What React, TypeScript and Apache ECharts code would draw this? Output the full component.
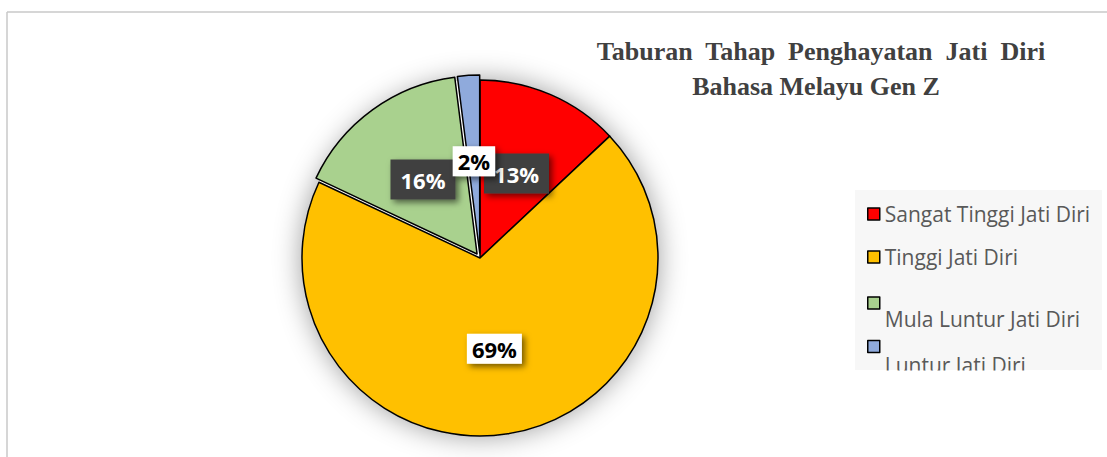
import React, { useEffect, useRef } from "react";
import * as echarts from "echarts";

const categories = [
  "Sangat Tinggi Jati Diri",
  "Tinggi Jati Diri",
  "Mula Luntur Jati Diri",
  "Luntur Jati Diri",
];
const values = [13, 69, 16, 2];
const colors = ["#FF0000", "#FFC000", "#A9D18E", "#8FAADC"];
const exploded = [false, false, true, true];
const darkLabel = [true, false, true, false];
const titleLines = ["Taburan  Tahap  Penghayatan  Jati  Diri", "Bahasa Melayu Gen Z"];

export default function App() {
  const ref = useRef<HTMLDivElement>(null);
  useEffect(() => {
    if (!ref.current) return;
    const chart = echarts.init(ref.current, undefined, { renderer: "svg" });
    const darkStyle = {
      backgroundColor: "#404040",
      color: "#ffffff",
      padding: [9, 10, 9, 10],
      shadowBlur: 6,
      shadowColor: "rgba(0,0,0,0.55)",
      shadowOffsetX: 3,
      shadowOffsetY: 3,
    };
    const whiteStyle = {
      backgroundColor: "#ffffff",
      color: "#000000",
      padding: [4, 5, 4, 5],
      shadowBlur: 6,
      shadowColor: "rgba(0,0,0,0.55)",
      shadowOffsetX: 3,
      shadowOffsetY: 3,
    };
    const legendTops = [202, 245, 271, 310.5];
    const legendLH = [24, 24, 32, 36];
    const legends = categories.map((name, i) => ({
      data: [name],
      left: 867,
      top: legendTops[i],
      padding: 0,
      orient: "vertical",
      itemWidth: 12,
      itemHeight: 12,
      icon: "rect",
      selectedMode: false,
      itemStyle: { borderColor: "#000", borderWidth: 1.5 },
      formatter: i >= 2 ? (n: string) => "\n" + n : (n: string) => n,
      textStyle: {
        fontFamily: "Open Sans",
        fontSize: 21,
        color: "#595959",
        lineHeight: legendLH[i],
      },
    }));
    chart.setOption({
      animation: false,
      backgroundColor: "#ffffff",
      legend: legends,
      graphic: [
        { type: "line", shape: { x1: 7, y1: 12, x2: 1107, y2: 12 }, style: { stroke: "#c8c8c8", lineWidth: 1.5 } },
        { type: "line", shape: { x1: 7, y1: 12, x2: 7, y2: 457 }, style: { stroke: "#c8c8c8", lineWidth: 1.5 } },
        { type: "rect", z: -5, shape: { x: 855, y: 190, width: 247, height: 180 }, style: { fill: "#f7f7f7" } },
        { type: "rect", z: 100, shape: { x: 852, y: 370.5, width: 255, height: 20 }, style: { fill: "#ffffff" } },
        {
          type: "text", x: 821, y: 51,
          style: { text: titleLines[0], fontFamily: "Liberation Serif", fontWeight: "bold", fontSize: 26, fill: "#404040", align: "center", verticalAlign: "middle" },
        },
        {
          type: "text", x: 816, y: 86,
          style: { text: titleLines[1], fontFamily: "Liberation Serif", fontWeight: "bold", fontSize: 26, fill: "#404040", align: "center", verticalAlign: "middle" },
        },
      ],
      series: [
        {
          type: "pie",
          name: "shadow",
          z: 1,
          silent: true,
          center: [480, 258],
          radius: 178,
          label: { show: false },
          labelLine: { show: false },
          data: [
            { name: "__bg", value: 1, itemStyle: { color: "#ffffff", shadowBlur: 28, shadowColor: "rgba(0,0,0,0.4)" } },
          ],
        },
        {
          type: "pie",
          name: "Penghayatan",
          z: 2,
          center: [480, 258],
          radius: 178,
          startAngle: 90,
          clockwise: true,
          selectedMode: "multiple",
          selectedOffset: 5,
          avoidLabelOverlap: false,
          labelLayout: { hideOverlap: false },
          emphasis: { disabled: true },
          itemStyle: { borderColor: "#000000", borderWidth: 1.5 },
          label: {
            show: true,
            position: "inside",
            formatter: "{d}%",
            fontFamily: "Open Sans",
            fontWeight: "bold",
            fontSize: 22,
          },
          labelLine: { show: false },
          data: categories.map((name, i) => ({
            name,
            value: values[i],
            selected: exploded[i],
            itemStyle: { color: colors[i] },
            label: darkLabel[i] ? darkStyle : whiteStyle,
          })),
        },
      ],
    });
    return () => chart.dispose();
  }, []);
  return (
    <div
      ref={ref}
      style={{ position: "absolute", left: 0, top: 0, width: 1107, height: 457 }}
    />
  );
}
